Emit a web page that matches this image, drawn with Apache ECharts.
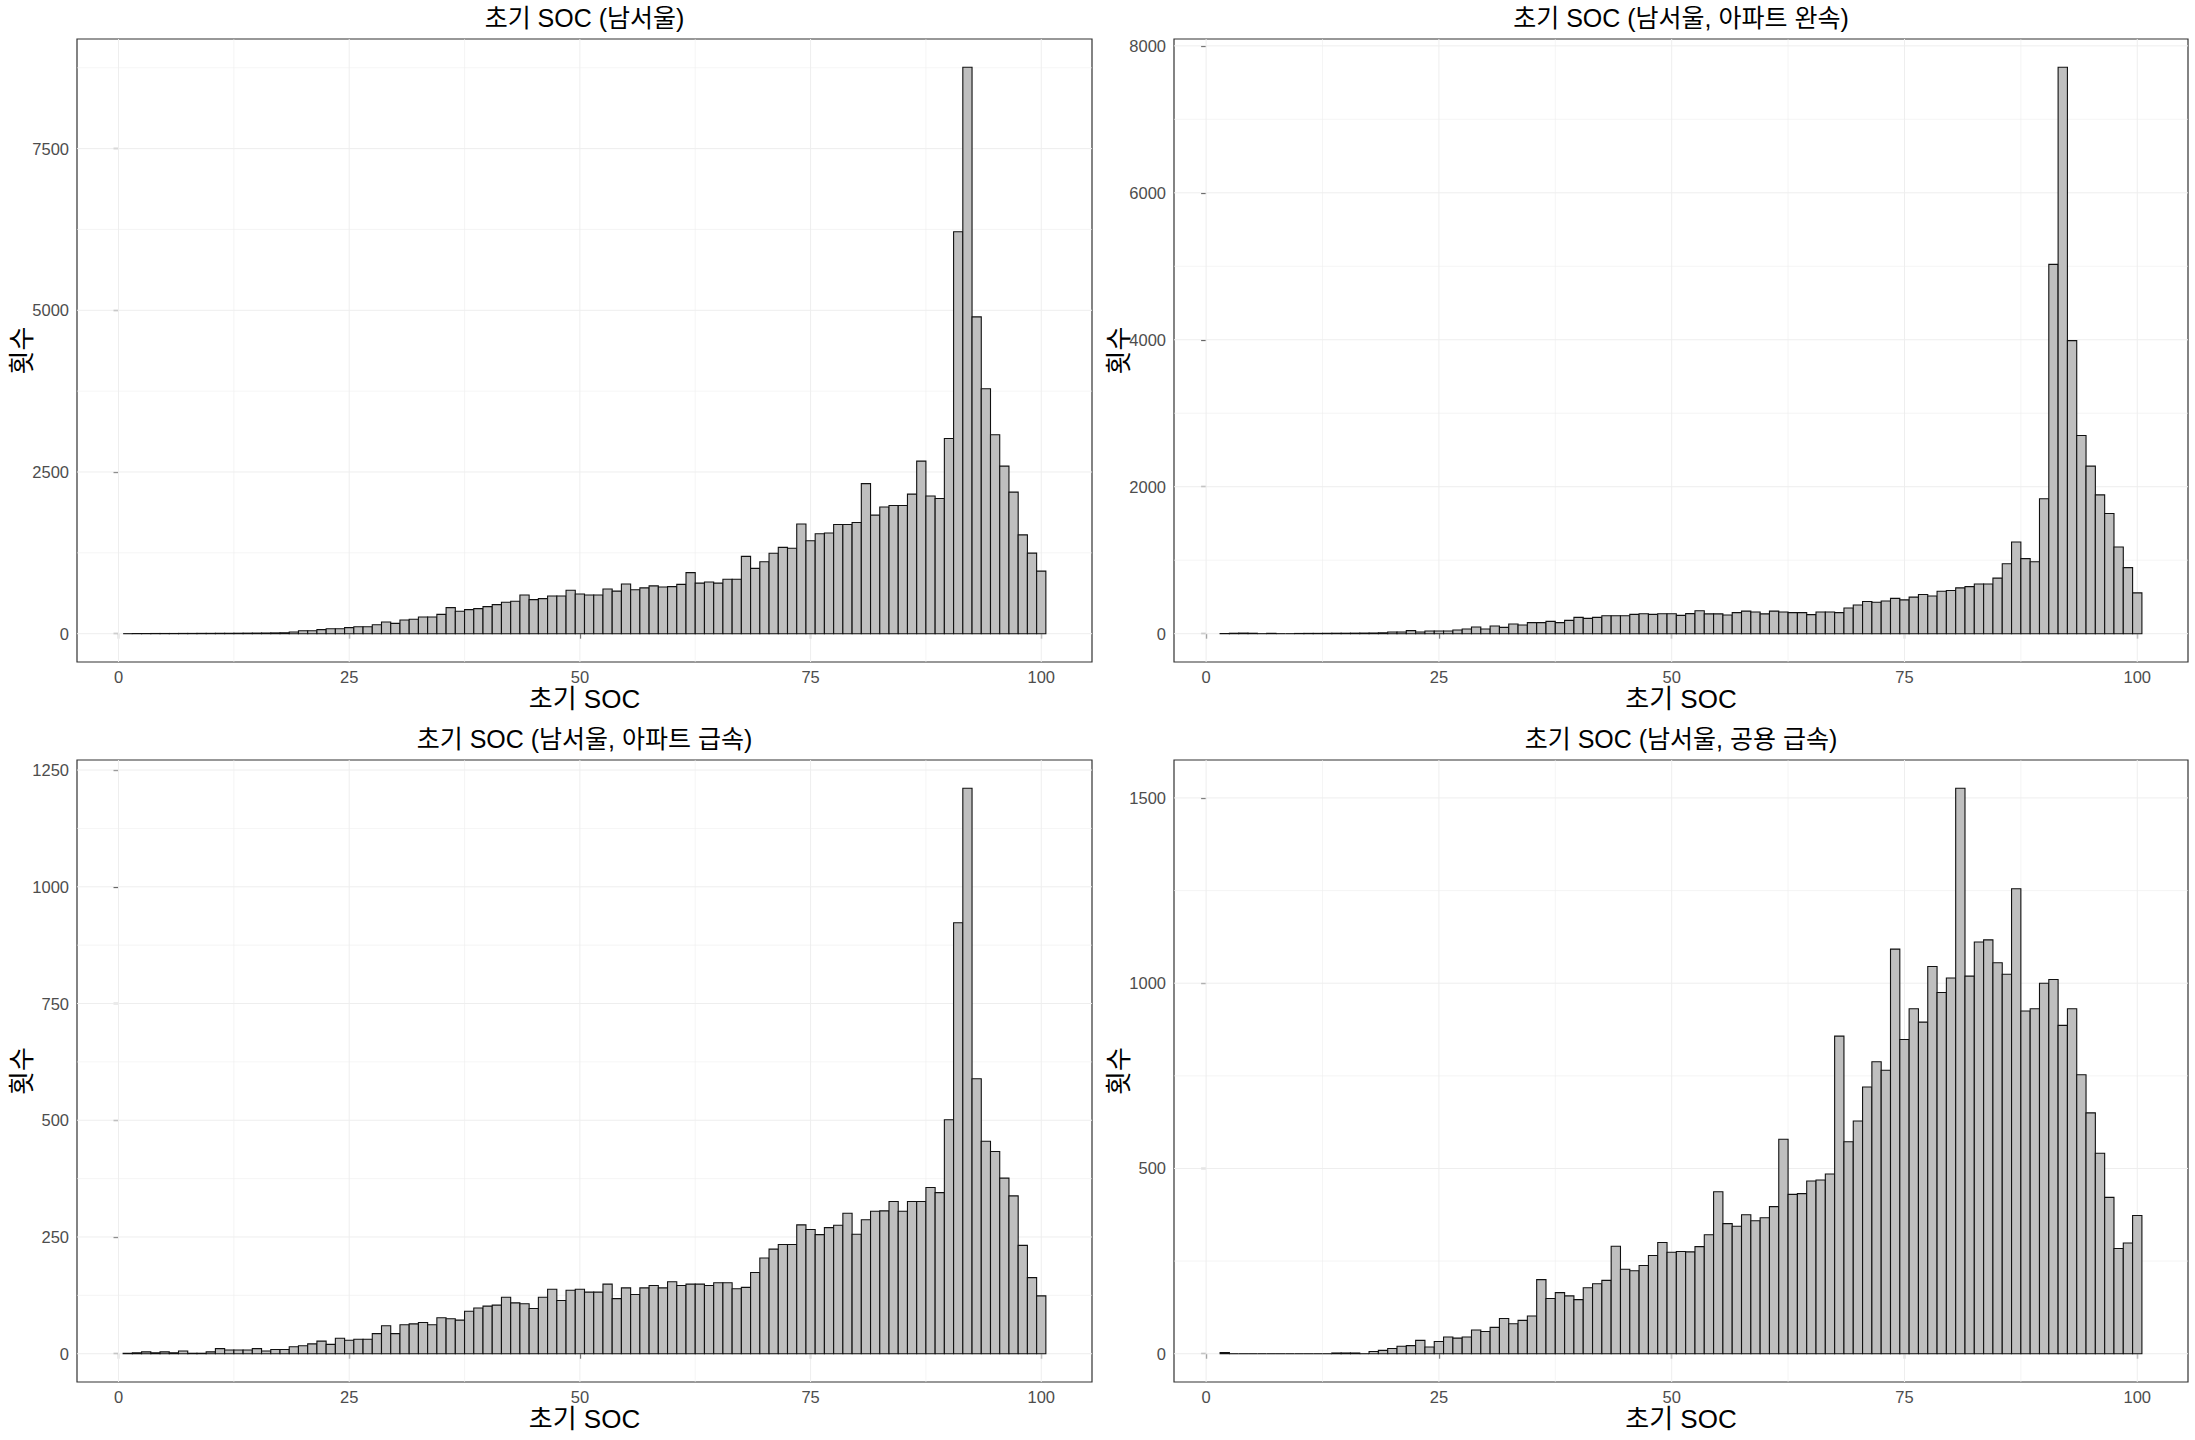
<!DOCTYPE html>
<html>
<head>
<meta charset="utf-8">
<script src="https://cdn.jsdelivr.net/npm/echarts@6/dist/echarts.min.js"></script>
<style>
html,body{margin:0;padding:0;background:#fff;}
#chart{width:2195px;height:1440px;}
</style>
</head>
<body>
<div id="chart"></div>
<script>
// ---------- data (counts per 1-unit SOC bin) ----------
const panelTitles = ['초기 SOC (남서울)', '초기 SOC (남서울, 아파트 완속)', '초기 SOC (남서울, 아파트 급속)', '초기 SOC (남서울, 공용 급속)'];
const xTitle = '초기 SOC';
const yTitle = '횟수';

// first bin of each histogram
const startBins = [1, 2, 1, 2];

// panel 1: 남서울 (bins 1..100)
const countsAll = [
  0, 2, 2, 3, 3, 3, 4, 4, 5, 5, 6, 6, 7, 8, 9, 10, 12, 14, 26, 46,
  46, 62, 77, 77, 93, 108, 108, 139, 181, 160, 212, 222, 258, 258, 299, 403, 346, 372, 387, 418,
  449, 485, 501, 599, 527, 542, 583, 583, 671, 614, 599, 599, 690, 658, 769, 679, 709, 739, 721, 727,
  763, 944, 781, 799, 781, 841, 841, 1196, 1010, 1112, 1244, 1334, 1322, 1695, 1436, 1545, 1557, 1689, 1689, 1719,
  2320, 1833, 1959, 1983, 1983, 2158, 2668, 2128, 2091, 3017, 6214, 8757, 4898, 3786, 3077, 2590, 2188, 1527, 1245, 968
];
// panel 2: 아파트 완속 (bins 2..100)
const countsAptSlow = [
  2, 6, 8, 6, 0, 5, 0, 0, 3, 4, 4, 5, 6, 6, 7, 8, 9, 12, 23,
  23, 41, 23, 36, 36, 36, 50, 63, 91, 63, 104, 86, 131, 118, 150, 150, 168, 150, 181, 222,
  208, 222, 245, 245, 245, 263, 272, 263, 272, 272, 249, 273, 312, 270, 270, 254, 286, 307, 296, 270,
  307, 296, 286, 286, 259, 296, 296, 286, 349, 391, 439, 428, 444, 481, 460, 497, 534, 513, 577, 587,
  624, 640, 677, 677, 756, 952, 1248, 1021, 979, 1836, 5026, 7708, 3989, 2698, 2280, 1889, 1635, 1180, 899, 555
];
// panel 3: 아파트 급속 (bins 1..100)
const countsAptFast = [
  1, 2, 4, 2, 4, 2, 6, 1, 1, 4, 11, 8, 8, 8, 11, 6, 9, 9, 15, 17,
  21, 27, 20, 33, 29, 31, 31, 43, 60, 43, 62, 64, 67, 62, 77, 75, 72, 91, 98, 102,
  104, 121, 109, 107, 97, 121, 138, 114, 136, 138, 132, 132, 149, 118, 141, 127, 141, 146, 141, 154,
  146, 149, 149, 146, 152, 152, 139, 142, 174, 205, 224, 234, 234, 276, 266, 255, 270, 275, 301, 256,
  287, 305, 306, 326, 305, 326, 326, 356, 345, 501, 923, 1211, 589, 455, 433, 376, 338, 232, 163, 124
];
// panel 4: 공용 급속 (bins 2..100)
const countsPublicFast = [
  3, 0, 0, 0, 0, 0, 0, 0, 0, 0, 0, 0, 2, 2, 2, 0, 6, 9, 14,
  20, 22, 36, 18, 33, 45, 42, 45, 64, 60, 71, 95, 81, 90, 102, 200, 149, 165, 156, 146,
  178, 189, 198, 290, 228, 224, 238, 265, 300, 274, 276, 275, 289, 321, 437, 351, 344, 375, 359, 367,
  397, 579, 430, 432, 466, 469, 485, 857, 572, 628, 720, 788, 765, 1092, 848, 931, 895, 1045, 975, 1014,
  1526, 1019, 1111, 1117, 1055, 1024, 1255, 925, 931, 1000, 1010, 886, 931, 753, 650, 541, 422, 284, 299, 373
];
const panelCounts = [countsAll, countsAptSlow, countsAptFast, countsPublicFast];

// axis ticks
const xMajorTicks = [0, 25, 50, 75, 100];
const xMinorTicks = [12.5, 37.5, 62.5, 87.5];
const yMajorTicks = [
  [0, 2500, 5000, 7500],
  [0, 2000, 4000, 6000, 8000],
  [0, 250, 500, 750, 1000, 1250],
  [0, 500, 1000, 1500]
];
const yMinorTicks = [
  [1250, 3750, 6250, 8750],
  [1000, 3000, 5000, 7000],
  [125, 375, 625, 875, 1125],
  [250, 750, 1250]
];

// ---------- layout ----------
const grids = [
  {left: 77, top: 39, width: 1015, height: 623},
  {left: 1174, top: 39, width: 1014, height: 623},
  {left: 77, top: 760, width: 1015, height: 622},
  {left: 1174, top: 760, width: 1014, height: 622}
];

const FONT = "'Liberation Sans', Arial, 'Noto Sans CJK KR', sans-serif";

const BIN_HALF = 0.5;

function barItem(params, api) {
  const b = api.value(0), c = api.value(1);
  const p0 = api.coord([b - BIN_HALF, 0]);
  const p1 = api.coord([b + BIN_HALF, c]);
  if (c === 0) {
    return {type: 'line', shape: {x1: p0[0], y1: p0[1], x2: p1[0], y2: p0[1]},
      style: {stroke: '#111', lineWidth: 1.1}};
  }
  return {type: 'rect',
    shape: {x: p0[0], y: p1[1], width: p1[0] - p0[0], height: p0[1] - p1[1]},
    style: {fill: '#BFBFBF', stroke: '#111', lineWidth: 1.1}};
}
function vGrid(params, api) {
  const x = api.coord([api.value(0), 0])[0];
  const cs = params.coordSys;
  return {type: 'line', silent: true,
    shape: {x1: x, y1: cs.y, x2: x, y2: cs.y + cs.height},
    style: {stroke: '#EEEEEE', lineWidth: api.value(1) ? 1.0 : 0.6}};
}
function hGrid(params, api) {
  const y = api.coord([0, api.value(0)])[1];
  const cs = params.coordSys;
  return {type: 'line', silent: true,
    shape: {x1: cs.x, y1: y, x2: cs.x + cs.width, y2: y},
    style: {stroke: '#EEEEEE', lineWidth: api.value(1) ? 1.0 : 0.6}};
}

const option = {
  animation: false,
  backgroundColor: '#ffffff',
  title: [], grid: [], xAxis: [], yAxis: [], series: []
};

panelCounts.forEach((counts, i) => {
  const g = grids[i];
  const start = startBins[i];
  const lo = start - BIN_HALF, hi = start + counts.length - 1 + BIN_HALF;
  const xr = hi - lo;
  const maxC = Math.max(...counts);

  option.grid.push({left: g.left, top: g.top, width: g.width, height: g.height,
    show: true, borderColor: '#333333', borderWidth: 1.2, backgroundColor: 'transparent', containLabel: false});

  option.title.push({text: panelTitles[i], left: g.left + g.width / 2, top: g.top - 34,
    textAlign: 'center', padding: 0,
    textStyle: {fontFamily: FONT, fontSize: 25, fontWeight: 'normal', color: '#000', lineHeight: 26}});

  option.xAxis.push({type: 'value', gridIndex: i, min: lo - 0.05 * xr, max: hi + 0.05 * xr,
    name: xTitle, nameLocation: 'middle', nameGap: 24,
    nameTextStyle: {fontFamily: FONT, fontSize: 26, color: '#000', lineHeight: 24},
    axisLine: {show: false},
    axisTick: {show: true, length: 5, customValues: xMajorTicks, lineStyle: {color: '#333', width: 1.2}},
    axisLabel: {show: true, customValues: xMajorTicks, margin: 7, color: '#4D4D4D', fontSize: 16.5, fontFamily: FONT,
      lineHeight: 16, formatter: v => String(v)},
    splitLine: {show: false}});

  option.yAxis.push({type: 'value', gridIndex: i, min: -0.05 * maxC, max: 1.05 * maxC,
    name: yTitle, nameLocation: 'middle', nameRotate: 90, nameGap: 42, nameMoveOverlap: false,
    nameTextStyle: {fontFamily: FONT, fontSize: 26, color: '#000', lineHeight: 26},
    axisLine: {show: false},
    axisTick: {show: true, length: 5, customValues: yMajorTicks[i], lineStyle: {color: '#333', width: 1.2}},
    axisLabel: {show: true, customValues: yMajorTicks[i], margin: 8, color: '#4D4D4D', fontSize: 16.5, fontFamily: FONT,
      formatter: v => String(v)},
    splitLine: {show: false}});

  const vData = xMinorTicks.map(v => [v, 0]).concat(xMajorTicks.map(v => [v, 1]));
  const hData = yMinorTicks[i].map(v => [v, 0]).concat(yMajorTicks[i].map(v => [v, 1]));
  option.series.push({type: 'custom', xAxisIndex: i, yAxisIndex: i, silent: true, z: 1,
    renderItem: vGrid, data: vData, encode: {x: 0}, clip: true});
  option.series.push({type: 'custom', xAxisIndex: i, yAxisIndex: i, silent: true, z: 1,
    renderItem: hGrid, data: hData, encode: {y: 0}, clip: true});

  const barData = counts.map((c, k) => [start + k, c]);
  option.series.push({type: 'custom', name: panelTitles[i], xAxisIndex: i, yAxisIndex: i, z: 2,
    renderItem: barItem, data: barData, encode: {x: 0, y: 1}, clip: false});
});

const chart = echarts.init(document.getElementById('chart'), null, {renderer: 'svg', width: 2195, height: 1440});
chart.setOption(option);
</script>
</body>
</html>
